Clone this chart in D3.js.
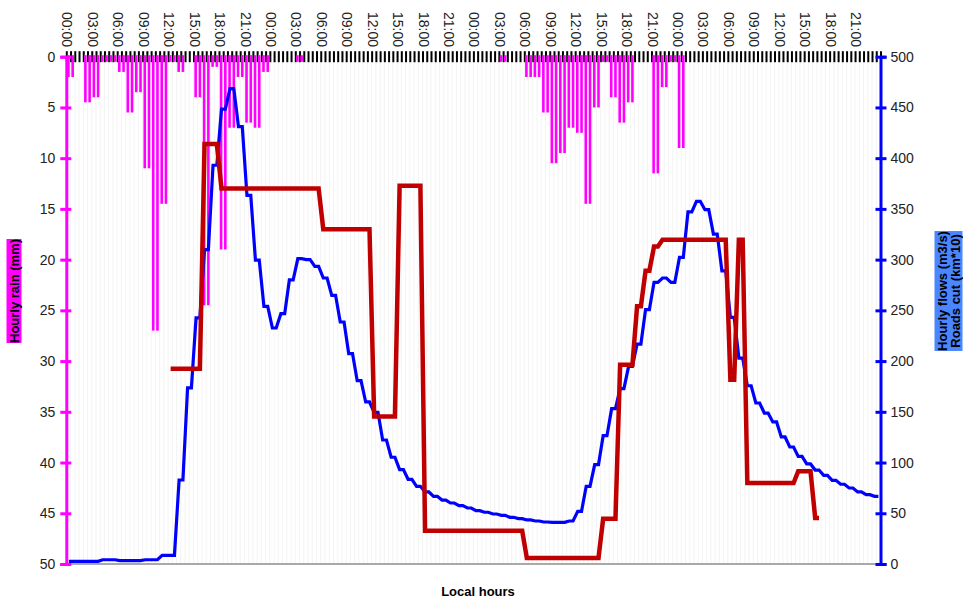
<!DOCTYPE html>
<html>
<head>
<meta charset="utf-8">
<script src="https://cdn.jsdelivr.net/npm/d3@7"></script>
<style>
  body { margin: 0; background: #fff; }
  svg { display: block; font-family: "Liberation Sans", Arial, sans-serif; }
</style>
</head>
<body>
<script>
var w = 963;
var h = 601;

// hourly rain (mm), 96 hours from 00:00 of day 1
var rain = [2.0, 0, 4.5, 4.0, 0.5, 0.5, 1.5, 5.5, 3.5, 11.0, 27.0, 14.5,
            0.5, 1.5, 0, 4.0, 24.5, 1.0, 19.0, 7.0, 2.0, 6.5, 7.0, 1.5,
            0, 0, 0, 0.5, 0, 0, 0, 0, 0, 0, 0, 0,
            0, 0, 0, 0, 0, 0, 0, 0, 0, 0, 0, 0,
            0, 0, 0, 0.5, 0, 0, 2.0, 2.0, 5.5, 10.5, 9.5, 7.0,
            7.5, 14.5, 5.0, 0.5, 4.0, 6.5, 4.5, 0, 0, 11.5, 3.0, 0.5,
            9.0, 0, 0, 0, 0, 0, 0, 0, 0, 0, 0, 0,
            0, 0, 0, 0, 0, 0, 0, 0, 0, 0, 0, 0];

// hourly flows (m3/s)
var flows = [2.6, 2.6, 2.6, 2.6, 4.2, 4.2, 3.3, 3.3, 3.3, 4.2, 4.2, 8.5,
             8.5, 82.8, 173.5, 242.5, 309.8, 393, 448.4, 468.5, 431, 363.4, 299.6, 254,
             232.6, 246.7, 280, 301, 300, 293.4, 281.9, 264.8, 238.5, 207.3, 180.7, 159.7,
             149.5, 122.2, 105.2, 93, 83.5, 76.6, 71, 66.7, 63, 60.1, 57.5, 55.2,
             52.6, 51, 49.3, 48, 46, 44.7, 43.4, 42.4, 41.4, 41, 41, 42.4,
             51.9, 76.6, 97.9, 126.5, 153.1, 172.8, 194.8, 216.8, 250.7, 277.6, 281.9, 277.6,
             302.3, 347, 357.5, 349.2, 325.2, 289, 243, 203, 175.7, 158.7, 148.8, 140,
             125.2, 115.3, 106.1, 98.6, 92.6, 87.4, 82.5, 78.6, 74.9, 71, 68.3, 66.7];

// hourly roads cut (km*10), null = no data
var roads = [null, null, null, null, null, null, null, null, null, null, null, null,
             192.5, 192.5, 192.5, 192.5, 414, 414, 370, 370, 370, 370, 370, 370,
             370, 370, 370, 370, 370, 370, 330, 330, 330, 330, 330, 330,
             145.5, 145.5, 145.5, 372.8, 372.8, 372.8, 32.8, 32.8, 32.8, 32.8, 32.8, 32.8,
             32.8, 32.8, 32.8, 32.8, 32.8, 32.8, 5.9, 5.9, 5.9, 5.9, 5.9, 5.9,
             5.9, 5.9, 5.9, 44.7, 44.7, 196.5, 196.5, 254, 289, 313, 319.6, 319.6,
             319.6, 319.6, 319.6, 319.6, 319.6, 319.6, 181.7, 319.6, 79.8, 79.8, 79.8, 79.8,
             79.8, 79.8, 91.4, 91.4, 45.3, null, null, null, null, null, null, null];

var hourLabels = ["00:00", "03:00", "06:00", "09:00", "12:00", "15:00", "18:00", "21:00"];
var rainTicks = [0, 5, 10, 15, 20, 25, 30, 35, 40, 45, 50];
var flowTicks = [0, 50, 100, 150, 200, 250, 300, 350, 400, 450, 500];

var plotL = 66.3, plotR = 880.5, plotT = 56.7, plotB = 564;

var x = d3.scaleLinear().domain([0, 96]).range([plotL, plotR]);
var yRain = d3.scaleLinear().domain([0, 50]).range([plotT, plotB]);
var yFlow = d3.scaleLinear().domain([0, 500]).range([plotB, plotT]);

var svg = d3.select("body")
            .append("svg")
              .attr("width", w)
              .attr("height", h);

var halfHours = d3.range(0, 96.01, 0.5);

// dotted vertical grid
svg.append("g")
  .selectAll("line")
  .data(halfHours)
  .enter()
  .append("line")
    .attr("x1", function(d) { return x(d); })
    .attr("x2", function(d) { return x(d); })
    .attr("y1", plotT)
    .attr("y2", plotB)
    .attr("stroke", "#e2e2e2")
    .attr("stroke-width", 0.8)
    .attr("stroke-dasharray", "1,1");

// bottom line
svg.append("line")
  .attr("x1", plotL).attr("x2", plotR)
  .attr("y1", plotB).attr("y2", plotB)
  .attr("stroke", "#8c8c8c")
  .attr("stroke-width", 1.5);

// top axis ticks every half hour
var topAxis = d3.axisTop(x)
  .tickValues(halfHours)
  .tickSize(11)
  .tickFormat("");
var gTop = svg.append("g")
  .attr("transform", "translate(0," + (plotT + 5.5) + ")")
  .call(topAxis);
gTop.select(".domain").remove();
gTop.selectAll(".tick line")
  .attr("stroke", "#000")
  .attr("stroke-width", 2);

// time labels every 3 hours
var labelHours = d3.range(0, 96, 3);
svg.append("g")
  .selectAll("text")
  .data(labelHours)
  .enter()
  .append("text")
    .attr("transform", function(d) {
      return "translate(" + (x(d) + 1) + ",12) rotate(90)";
    })
    .attr("dy", "0.35em")
    .style("font-size", "14px")
    .style("fill", "#222")
    .text(function(d) { return hourLabels[(d % 24) / 3]; });

// rain bars, two half-hour bars per hour
var rainHalf = [];
rain.forEach(function(v, i) {
  if (v > 0) {
    rainHalf.push({ t: i + 0.25, v: v });
    rainHalf.push({ t: i + 0.75, v: v });
  }
});
svg.append("g")
  .selectAll("rect")
  .data(rainHalf)
  .enter()
  .append("rect")
    .attr("x", function(d) { return x(d.t) - 1.3; })
    .attr("y", yRain(0) - 1.5)
    .attr("width", 2.6)
    .attr("height", function(d) { return yRain(d.v) - yRain(0) + 1.5; })
    .attr("fill", "#ff00ff");

function halfPoints(arr) {
  var pts = [];
  arr.forEach(function(v, i) {
    if (v !== null) {
      pts.push({ t: i + 0.3, v: v });
      pts.push({ t: i + 0.75, v: v });
    }
  });
  return pts;
}

var line = d3.line()
  .x(function(d) { return x(d.t); })
  .y(function(d) { return yFlow(d.v); });

svg.append("path")
  .datum(halfPoints(flows))
  .attr("d", line)
  .attr("fill", "none")
  .attr("stroke", "#0000ff")
  .attr("stroke-width", 3.2);

svg.append("path")
  .datum(halfPoints(roads))
  .attr("d", line)
  .attr("fill", "none")
  .attr("stroke", "#c00000")
  .attr("stroke-width", 4.5);

// left axis (rain)
var gLeft = svg.append("g")
  .attr("transform", "translate(" + plotL + ",0)")
  .call(d3.axisLeft(yRain).tickValues(rainTicks).tickSize(6).tickPadding(5));
gLeft.select(".domain").attr("stroke", "#ff00ff").attr("stroke-width", 3);
gLeft.selectAll(".tick line")
  .attr("x1", 5).attr("x2", -6)
  .attr("stroke", "#ff00ff").attr("stroke-width", 3);
gLeft.selectAll(".tick text")
  .style("font-size", "14px")
  .style("fill", "#222")
  .style("font-family", "'Liberation Sans', Arial, sans-serif");

// right axis (flows)
var gRight = svg.append("g")
  .attr("transform", "translate(" + plotR + ",0)")
  .call(d3.axisRight(yFlow).tickValues(flowTicks).tickSize(6).tickPadding(4));
gRight.select(".domain").attr("stroke", "#0000ff").attr("stroke-width", 3);
gRight.selectAll(".tick line")
  .attr("x1", -5).attr("x2", 6)
  .attr("stroke", "#0000ff").attr("stroke-width", 3);
gRight.selectAll(".tick text")
  .style("font-size", "14px")
  .style("fill", "#222")
  .style("font-family", "'Liberation Sans', Arial, sans-serif");

// axis titles with coloured boxes
function boxedLabel(cx, cy, lines, color) {
  var g = svg.append("g")
    .attr("transform", "translate(" + cx + "," + cy + ") rotate(-90)");
  var bg = g.append("rect").attr("fill", color);
  var t = g.append("text")
    .attr("text-anchor", "middle")
    .style("font-size", "13px")
    .style("font-weight", "bold")
    .style("fill", "#000");
  lines.forEach(function(s, i) {
    t.append("tspan")
      .attr("x", 0)
      .attr("y", (i - (lines.length - 1) / 2) * 13 + 4.5)
      .text(s);
  });
  var bb = t.node().getBBox();
  bg.attr("x", bb.x).attr("y", bb.y).attr("width", bb.width).attr("height", bb.height);
}

boxedLabel(14, 291, ["Hourly rain (mm)"], "#ff00ff");
boxedLabel(948.5, 291, ["Hourly flows (m3/s)", "Roads cut (km*10)"], "#4a86ff");

svg.append("text")
  .attr("x", 478)
  .attr("y", 596)
  .attr("text-anchor", "middle")
  .style("font-size", "13px")
  .style("font-weight", "bold")
  .style("fill", "#000")
  .text("Local hours");
</script>
</body>
</html>
